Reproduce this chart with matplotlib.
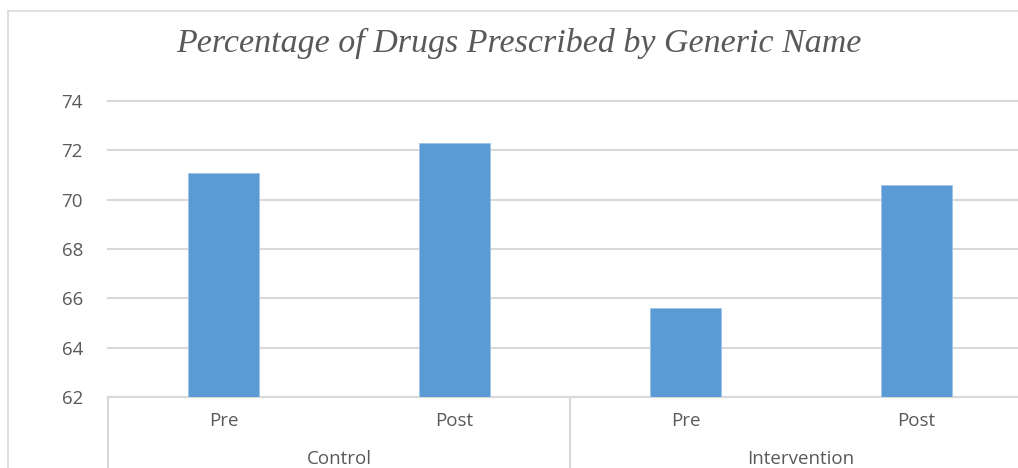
import matplotlib
matplotlib.use("Agg")
import matplotlib.pyplot as plt
import matplotlib.transforms as mtransforms
from matplotlib.lines import Line2D

# ====== DATA ======
groups = ["Control", "Intervention"]
phases = ["Pre", "Post"]
values = [71.1, 72.3, 65.6, 70.6]   # Control Pre/Post, Intervention Pre/Post
y_ticks = [62, 64, 66, 68, 70, 72, 74]
title = "Percentage of Drugs Prescribed by Generic Name"
# ==================

BAR = "#5B9BD5"
GRID = "#D9D9D9"
TXT = "#595959"

W, H = 1018, 468
fig = plt.figure(figsize=(W / 100, H / 100), dpi=100)

# chart frame (only top + left edges visible in the crop)
fig.add_artist(Line2D([8 / W, 8 / W], [0, 1 - 11 / H], transform=fig.transFigure, color=GRID, lw=1.2))
fig.add_artist(Line2D([8 / W, 1], [1 - 11 / H, 1 - 11 / H], transform=fig.transFigure, color=GRID, lw=1.2))

left, right = 108 / W, 1032 / W
bottom, top = (H - 397) / H, (H - 101) / H
ax = fig.add_axes([left, bottom, right - left, top - bottom])

x = list(range(len(values)))
ax.bar(x, values, width=0.31, color=BAR, edgecolor="#9DC3E6", linewidth=0.6, zorder=3)

ax.set_xlim(-0.5, len(values) - 0.5)
ax.set_ylim(y_ticks[0], y_ticks[-1])
ax.set_yticks(y_ticks)
ax.yaxis.grid(True, color=GRID, lw=1.5, zorder=0)
for gl in ax.get_ygridlines():
    gl.set_clip_on(False)
ax.tick_params(axis="y", length=0, pad=18, labelsize=13.5, labelcolor=TXT)
ax.set_yticklabels([str(t) for t in y_ticks], family="Open Sans")
ax.set_xticks([])
for s in ["top", "right", "left"]:
    ax.spines[s].set_visible(False)
ax.spines["bottom"].set_color(GRID)
ax.spines["bottom"].set_linewidth(1.5)

# multi-level category axis
trans = mtransforms.blended_transform_factory(ax.transData, ax.transAxes)
px = 1 / (H * (top - bottom))  # one pixel in axes-y units
for i, v in enumerate(values):
    ax.text(i, -24 * px, phases[i % len(phases)], transform=trans, ha="center", va="center",
            fontsize=13.5, color=TXT, family="Open Sans")
for g, name in enumerate(groups):
    cx = g * len(phases) + (len(phases) - 1) / 2
    ax.text(cx, -62 * px, name, transform=trans, ha="center", va="center",
            fontsize=13.5, color=TXT, family="Open Sans")
for sep in [-0.5, len(phases) - 0.5]:
    ax.plot([sep, sep], [0, -80 * px], transform=trans, color=GRID, lw=1.5, clip_on=False)

fig.text(519 / W, 1 - 43 / H, title, ha="center", va="center", fontsize=24.5,
         style="italic", family="Liberation Serif", color=TXT)

fig.savefig("out.png", dpi=100)
